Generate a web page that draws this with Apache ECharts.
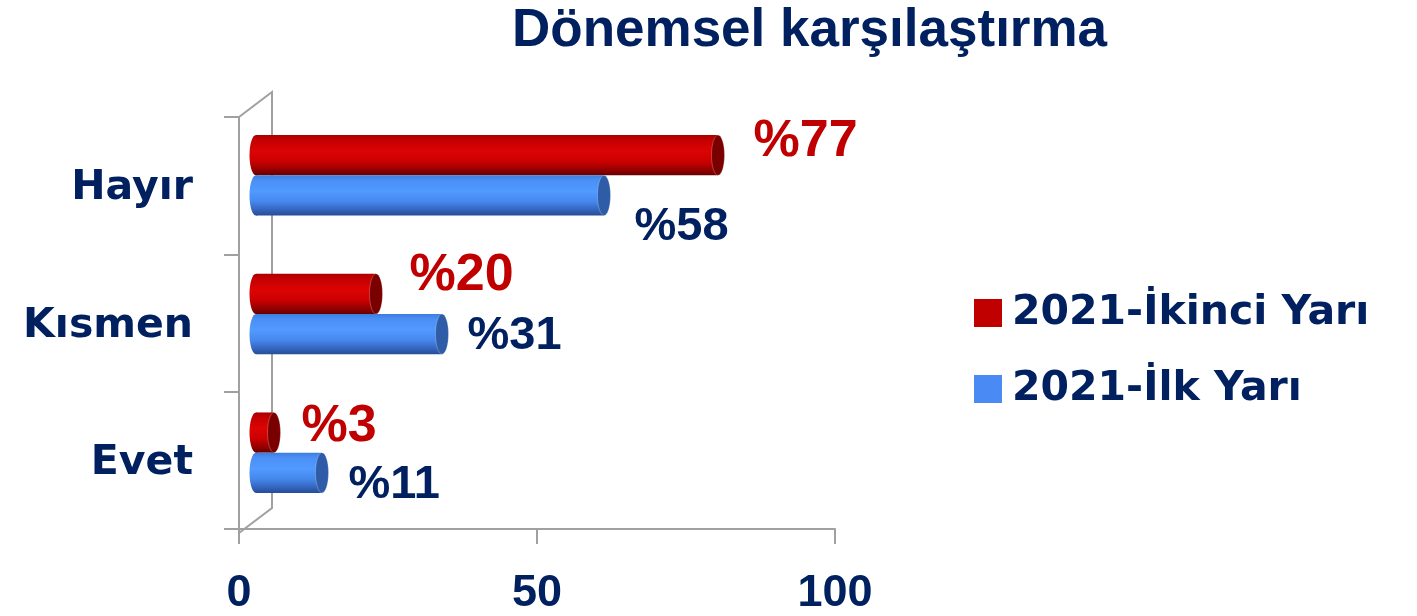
<!DOCTYPE html>
<html>
<head>
<meta charset="utf-8">
<script src="https://cdn.jsdelivr.net/npm/echarts@6/dist/echarts.min.js"></script>
<style>
  html, body { margin: 0; padding: 0; background: #ffffff; }
  #chart { width: 1417px; height: 616px; }
</style>
</head>
<body>
<div id="chart"></div>
<script>
// ---- data ----
const categories = ['Evet', 'Kısmen', 'Hayır'];
const seriesNames = ['2021-İkinci Yarı', '2021-İlk Yarı'];
const secondHalf = [3, 20, 77];   // 2021-İkinci Yarı
const firstHalf = [11, 31, 58];   // 2021-İlk Yarı
const titleText = 'Dönemsel karşılaştırma';

// ---- layout / style (not data) ----
const NAVY = '#002060';
const FRONT = { left: 239, top: 117, right: 835, bottom: 533 };
const DEPTH = { dx: 33, dy: -25 };
const BARS = { left: 256, width: 600, shift: -11 };
// label nudges (px) per category [Evet, Kısmen, Hayır]
const redNudge = [[21, -6], [27, -18], [29, -14]];
const blueNudge = [[20, 12], [19, 2], [24, 32]];

const chart = echarts.init(document.getElementById('chart'), null, { renderer: 'canvas' });

function grad(stops) {
  return new echarts.graphic.LinearGradient(0, 0, 0, 1,
    stops.map(s => ({ offset: s[0], color: s[1] })));
}
const redBody = [[0, '#a80000'], [0.12, '#c40000'], [0.4, '#dc0404'], [0.65, '#cc0000'], [0.85, '#980000'], [1, '#660000']];
const blueBody = [[0, '#3d7ddc'], [0.12, '#4a8ff5'], [0.4, '#519aff'], [0.65, '#4688ee'], [0.85, '#3566c0'], [1, '#274d94']];

function makeRender(isTop, body, capColor, labelColor, labelSize, nudges) {
  return function (params, api) {
    const v = api.value(0);
    const c = api.value(1);
    const p0 = api.coord([0, c]);
    const p1 = api.coord([v, c]);
    const band = api.size([0, 1])[1];
    const h = band * 0.29;
    const cy = p0[1];
    const top = isTop ? cy - h : cy;
    const mid = top + h / 2;
    const rx = 6.5;
    const x0 = p0[0];
    const x1 = p1[0];
    const n = nudges[c];
    return {
      type: 'group',
      children: [
        { type: 'ellipse', shape: { cx: x0, cy: mid, rx: rx, ry: h / 2 }, style: { fill: grad(body) } },
        { type: 'rect', shape: { x: x0, y: top, width: Math.max(0, x1 - x0), height: h }, style: { fill: grad(body) } },
        { type: 'ellipse', shape: { cx: x1, cy: mid, rx: rx, ry: h / 2 }, style: { fill: capColor, stroke: 'rgba(255,255,255,0.25)', lineWidth: 1 } },
        {
          type: 'text',
          style: {
            text: '%' + v,
            x: x1 + rx + n[0],
            y: mid + n[1],
            fill: labelColor,
            fontSize: labelSize,
            fontWeight: 'bold',
            fontFamily: 'Liberation Sans, Arial, sans-serif',
            align: 'left',
            verticalAlign: 'middle'
          }
        }
      ]
    };
  };
}

const option = {
  backgroundColor: '#ffffff',
  animation: false,
  title: {
    text: titleText,
    left: 512,
    top: 5,
    padding: 0,
    textStyle: { color: NAVY, fontSize: 53, fontWeight: 'bold', fontFamily: 'Liberation Sans, Arial, sans-serif', lineHeight: 53 }
  },
  legend: {
    orient: 'vertical',
    left: 974,
    top: 289,
    padding: 0,
    itemWidth: 28,
    itemHeight: 28,
    itemGap: 28,
    icon: 'rect',
    data: seriesNames,
    textStyle: { color: NAVY, fontSize: 41, fontWeight: 'bold', fontFamily: 'DejaVu Sans, sans-serif', lineHeight: 48, padding: [0, 0, 0, 5] }
  },
  grid: [
    { left: FRONT.left, top: FRONT.top, width: FRONT.right - FRONT.left, height: FRONT.bottom - FRONT.top },
    { left: BARS.left, top: FRONT.top + BARS.shift, width: BARS.width, height: FRONT.bottom - FRONT.top }
  ],
  xAxis: [
    {
      gridIndex: 0, type: 'value', min: 0, max: 100, interval: 50,
      axisLine: { show: true, lineStyle: { color: '#a0a0a0', width: 2 } },
      axisTick: { show: true, length: 15, lineStyle: { color: '#a0a0a0', width: 2 } },
      splitLine: { show: false },
      axisLabel: { margin: 42, color: NAVY, fontSize: 45, fontWeight: 'bold', fontFamily: 'Liberation Sans, Arial, sans-serif', lineHeight: 45 }
    },
    { gridIndex: 1, type: 'value', min: 0, max: 100, show: false }
  ],
  yAxis: [
    {
      gridIndex: 0, type: 'category', data: categories,
      axisLine: { show: true, lineStyle: { color: '#a0a0a0', width: 2 } },
      axisTick: { show: true, length: 15, lineStyle: { color: '#a0a0a0', width: 2 } },
      axisLabel: { margin: 46, color: NAVY, fontSize: 41, fontWeight: 'bold', fontFamily: 'DejaVu Sans, sans-serif', verticalAlign: 'top', lineHeight: 6 }
    },
    { gridIndex: 1, type: 'category', data: categories, show: false }
  ],
  graphic: [
    {
      type: 'polyline',
      silent: true,
      z: 0,
      shape: {
        points: [
          [FRONT.left, FRONT.top],
          [FRONT.left + DEPTH.dx, FRONT.top + DEPTH.dy],
          [FRONT.left + DEPTH.dx, FRONT.bottom + DEPTH.dy],
          [FRONT.left, FRONT.bottom]
        ]
      },
      style: { stroke: '#a0a0a0', lineWidth: 2, fill: null }
    }
  ],
  series: [
    {
      name: seriesNames[0],
      type: 'custom',
      xAxisIndex: 1, yAxisIndex: 1,
      itemStyle: { color: '#c00000' },
      encode: { x: 0, y: 1 },
      data: secondHalf.map((v, i) => [v, i]),
      renderItem: makeRender(true, redBody, '#7a0000', '#c00000', 52, redNudge),
      z: 3
    },
    {
      name: seriesNames[1],
      type: 'custom',
      xAxisIndex: 1, yAxisIndex: 1,
      itemStyle: { color: '#4a8af4' },
      encode: { x: 0, y: 1 },
      data: firstHalf.map((v, i) => [v, i]),
      renderItem: makeRender(false, blueBody, '#2e5ca6', NAVY, 47, blueNudge),
      z: 3
    }
  ]
};
chart.setOption(option);
</script>
</body>
</html>
